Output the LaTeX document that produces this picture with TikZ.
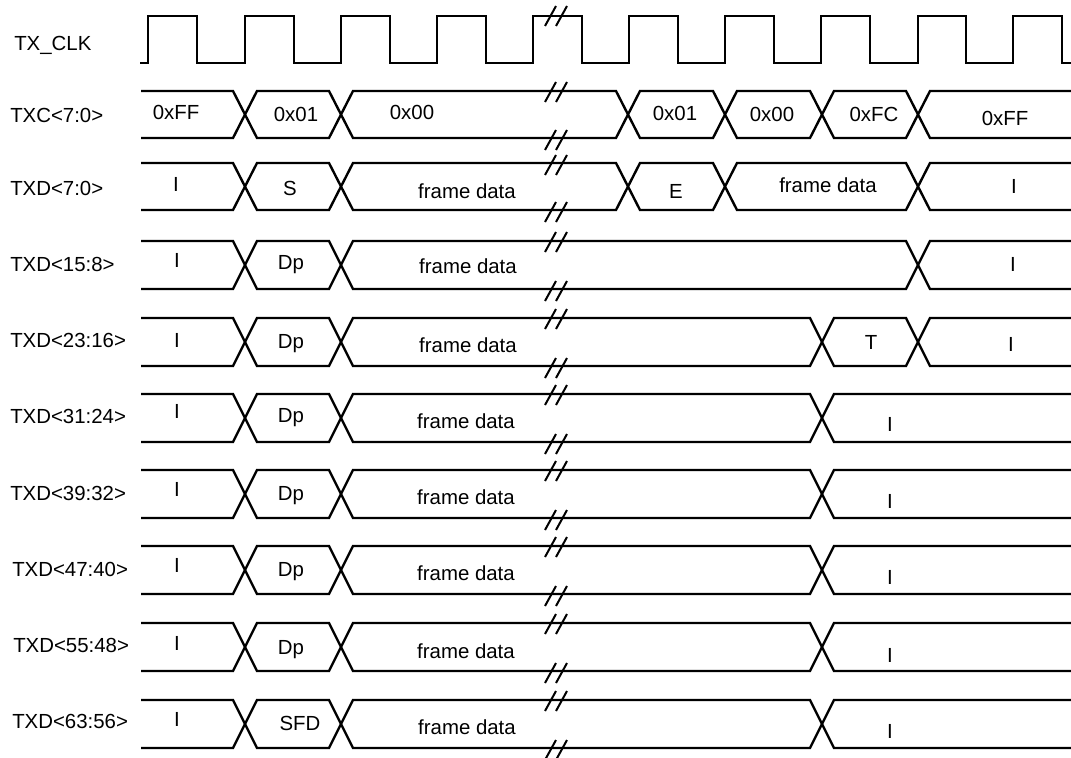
\documentclass[tikz,border=0pt]{standalone}
\usepackage{fontspec}
\setmainfont{Liberation Sans}

\begin{document}
\begin{tikzpicture}[x=0.75pt, y=-0.75pt,
  sig/.style={line width=1.8pt},
  lbl/.style={anchor=west, inner sep=0pt, text height=11pt, text depth=0pt,
              font=\fontsize{15.3}{18}\selectfont},
  val/.style={lbl, anchor=center},
  brk/.pic={\draw[line width=1.5pt] (-11,10) -- (0,-10) (0,10) -- (11,-10);}]
  \useasboundingbox (0,0) rectangle (1071,757);
  % clock
  \draw[sig] (140,63) -- (148,63) |- (197,16) |- (245,63) |- (294,16) |- (341,63)
    |- (390,16) |- (437,63) |- (486,16) |- (533,63) |- (582,16) |- (629,63)
    |- (678,16) |- (725,63) |- (774,16) |- (821,63) |- (870,16) |- (918,63)
    |- (966,16) |- (1013,63) |- (1062,16) |- (1071,63);
  % TXC<7:0>
  \draw[sig] (141,91) -- (233,91) -- (257,138) -- (329,138) -- (353,91) -- (616,91) -- (640,138)
    -- (713,138) -- (737,91) -- (810,91) -- (834,138) -- (906,138) -- (930,91) -- (1071,91);
  \draw[sig] (141,138) -- (233,138) -- (257,91) -- (329,91) -- (353,138) -- (616,138) -- (640,91)
    -- (713,91) -- (737,138) -- (810,138) -- (834,91) -- (906,91) -- (930,138) -- (1071,138);
  % TXD<7:0>
  \draw[sig] (141,163) -- (233,163) -- (257,210) -- (329,210) -- (353,163) -- (616,163) -- (640,210)
    -- (713,210) -- (737,163) -- (906,163) -- (930,210) -- (1071,210);
  \draw[sig] (141,210) -- (233,210) -- (257,163) -- (329,163) -- (353,210) -- (616,210) -- (640,163)
    -- (713,163) -- (737,210) -- (906,210) -- (930,163) -- (1071,163);
  % TXD<15:8>
  \draw[sig] (141,241) -- (233,241) -- (257,289) -- (329,289) -- (353,241) -- (906,241) -- (930,289) -- (1071,289);
  \draw[sig] (141,289) -- (233,289) -- (257,241) -- (329,241) -- (353,289) -- (906,289) -- (930,241) -- (1071,241);
  % TXD<23:16>
  \draw[sig] (141,318) -- (233,318) -- (257,366) -- (329,366) -- (353,318) -- (810,318) -- (834,366)
    -- (906,366) -- (930,318) -- (1071,318);
  \draw[sig] (141,366) -- (233,366) -- (257,318) -- (329,318) -- (353,366) -- (810,366) -- (834,318)
    -- (906,318) -- (930,366) -- (1071,366);
  % TXD<31:24>
  \draw[sig] (141,394) -- (233,394) -- (257,442) -- (329,442) -- (353,394) -- (810,394) -- (834,442) -- (1071,442);
  \draw[sig] (141,442) -- (233,442) -- (257,394) -- (329,394) -- (353,442) -- (810,442) -- (834,394) -- (1071,394);
  % TXD<39:32>
  \draw[sig] (141,470) -- (233,470) -- (257,518) -- (329,518) -- (353,470) -- (810,470) -- (834,518) -- (1071,518);
  \draw[sig] (141,518) -- (233,518) -- (257,470) -- (329,470) -- (353,518) -- (810,518) -- (834,470) -- (1071,470);
  % TXD<47:40>
  \draw[sig] (141,546) -- (233,546) -- (257,594) -- (329,594) -- (353,546) -- (810,546) -- (834,594) -- (1071,594);
  \draw[sig] (141,594) -- (233,594) -- (257,546) -- (329,546) -- (353,594) -- (810,594) -- (834,546) -- (1071,546);
  % TXD<55:48>
  \draw[sig] (141,623) -- (233,623) -- (257,671) -- (329,671) -- (353,623) -- (810,623) -- (834,671) -- (1071,671);
  \draw[sig] (141,671) -- (233,671) -- (257,623) -- (329,623) -- (353,671) -- (810,671) -- (834,623) -- (1071,623);
  % TXD<63:56>
  \draw[sig] (141,700) -- (233,700) -- (257,748) -- (329,748) -- (353,700) -- (810,700) -- (834,748) -- (1071,748);
  \draw[sig] (141,748) -- (233,748) -- (257,700) -- (329,700) -- (353,748) -- (810,748) -- (834,700) -- (1071,700);
  % break marks
  \path (556,16) pic {brk} (556,92) pic {brk} (556,140) pic {brk} (556,165) pic {brk} (556,212) pic {brk}
    (556,242) pic {brk} (556,291) pic {brk} (556,319) pic {brk} (556,368) pic {brk}
    (556,395) pic {brk} (556,444) pic {brk} (556,471) pic {brk} (556,520) pic {brk}
    (556,547) pic {brk} (556,596) pic {brk} (556,624) pic {brk} (556,673) pic {brk}
    (556,701) pic {brk} (556,750) pic {brk};
  % signal names
  \node[lbl] (clk) at (14,43) {TX\_CLK};
  \node[lbl] (txc) at (10,115) {TXC<7:0>};
  \node[lbl] (d0) at (10,188) {TXD<7:0>};
  \node[lbl] (d1) at (10,264) {TXD<15:8>};
  \node[lbl] (d2) at (10,340) {TXD<23:16>};
  \node[lbl] (d3) at (10,416) {TXD<31:24>};
  \node[lbl] (d4) at (10,493) {TXD<39:32>};
  \node[lbl] (d5) at (12,569) {TXD<47:40>};
  \node[lbl] (d6) at (13,645) {TXD<55:48>};
  \node[lbl] (d7) at (12,721) {TXD<63:56>};
  % TXC values
  \node[val] (c1) at (176,112) {0xFF};
  \node[val] (c2) at (296,114) {0x01};
  \node[val] (c3) at (412,112) {0x00};
  \node[val] (c4) at (675,113) {0x01};
  \node[val] (c5) at (772,114) {0x00};
  \node[val] (c6) at (874,114) {0xFC};
  \node[val] (c7) at (1005,118) {0xFF};
  % TXD<7:0> values
  \node[val] (d0a) at (176,184) {I};
  \node[val] (d0b) at (290,188) {S};
  \node[val] (d0c) at (467,191) {frame data};
  \node[val] (d0d) at (676,191) {E};
  \node[val] (d0e) at (828,185) {frame data};
  \node[val] (d0f) at (1014,186) {I};
  % TXD<15:8> values
  \node[val] (d1a) at (177,260) {I};
  \node[val] (d1b) at (291,262) {Dp};
  \node[val] (d1c) at (468,266) {frame data};
  \node[val] (d1d) at (1013,264) {I};
  % TXD<23:16> values
  \node[val] (d2a) at (177,340) {I};
  \node[val] (d2b) at (291,341) {Dp};
  \node[val] (d2c) at (468,345) {frame data};
  \node[val] (d2d) at (871,342) {T};
  \node[val] (d2e) at (1011,344) {I};
  % TXD<31:24> .. TXD<63:56> values
  \node[val] (d3a) at (177,411) {I};
  \node[val] (d3b) at (291,415) {Dp};
  \node[val] (d3c) at (466,421) {frame data};
  \node[val] (d3d) at (890,424) {I};
  \node[val] (d4a) at (177,489) {I};
  \node[val] (d4b) at (291,493) {Dp};
  \node[val] (d4c) at (466,497) {frame data};
  \node[val] (d4d) at (890,501) {I};
  \node[val] (d5a) at (177,565) {I};
  \node[val] (d5b) at (291,569) {Dp};
  \node[val] (d5c) at (466,573) {frame data};
  \node[val] (d5d) at (890,577) {I};
  \node[val] (d6a) at (177,643) {I};
  \node[val] (d6b) at (291,647) {Dp};
  \node[val] (d6c) at (466,651) {frame data};
  \node[val] (d6d) at (890,655) {I};
  \node[val] (d7a) at (177,719) {I};
  \node[val] (d7b) at (300,723) {SFD};
  \node[val] (d7c) at (467,727) {frame data};
  \node[val] (d7d) at (890,731) {I};
\end{tikzpicture}
\end{document}
